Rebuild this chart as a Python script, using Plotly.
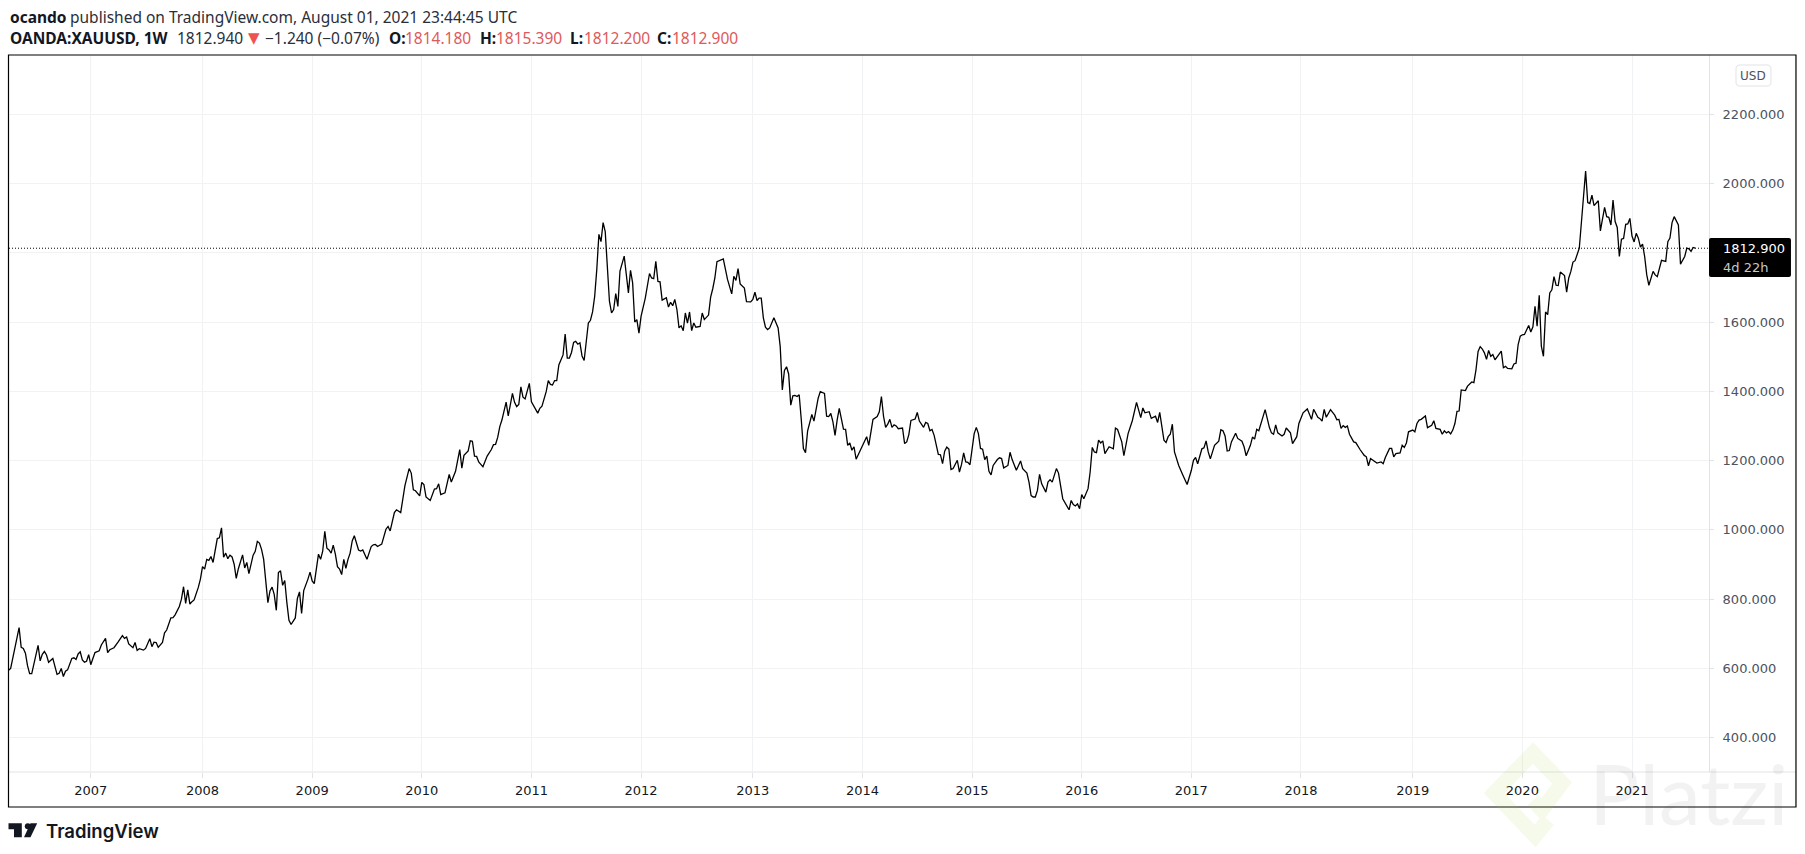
import plotly.graph_objects as go

# Weekly closes of OANDA:XAUUSD; week 0 is the first bar of 2007.
weeks_a = [-39,-38,-34,-33,-32,-31,-30,-29,-28,-25,-24,-23,-22,-21,-20,-19,-18,-16,-15,-14,-13,-12,-11,-9,-8,-7,-6,-5,-4,-3,-2,-1,
           0,1,2,4,5,7,8,9,11,13,15,16,17,18,20,21,22,23,25,26,28,29,30,31,32,34,35,36,38,39,40,42,43,44,45,46,47,48,49,51,52,
           53,54,55,56,57,58,60,61,62,63,64,65,66,67,68,69,70,72,73,74,75,76,77,78,79,80,81,82,83,84,85,86,87,88,89,90,91,92,93,94,95,96,97,98,99,100,101,103,
           104,105,106,108,109,110,111,112,113,114,115,116,117,118,119,120,121,122,123,124,125,127,128,129,131,133,134,135,136,138,140,141,142,144,145,147]
closes_a = [595,600,718,661,658,644,608,585,585,667,622,641,649,639,618,625,629,583,586,600,577,592,596,629,631,626,642,648,625,618,621,640,
            611,629,646,651,668,687,646,654,660,677,695,687,691,671,660,675,652,657,653,658,686,663,676,675,661,675,703,711,746,747,755,779,800,836,788,827,786,793,798,834,858,
            894,887,915,912,923,906,975,977,1006,921,933,917,927,922,901,860,888,928,890,906,874,906,927,938,967,962,944,915,848,790,824,835,814,768,877,882,840,854,790,739,727,738,746,802,821,759,825,858,
            878,853,845,930,915,939,996,947,942,933,956,930,894,887,871,915,889,915,933,968,983,942,939,942,915,952,957,958,952,959,1002,1010,997,1050,1058,1050]

weeks_b = [148,149,151,152,153,154,156,157,158,159,161,163,164,165,166,168,170,171,173,175,176,177,179,180,181,182,183,184,186,188,190,191,192,193,194,195,197,198,200,201,202,203,204,205,206,208,209,211,212,213,214,216,217,218,219,220,221,222,223,224,225,226,227,228,229,230,231,232,233,234,236,237,238,239,240,241,242,243,244,245,246,247,248,249,250,251,253,254,255,256,257,258,259,260,261,263,265,266,267,268,269,270,271,273,274,275,276,277,278,279,280,281,282,283,284,285,286,287,289,290,291,293,294,295,296,297,299,300,302,304,305,306,307,308,310,311,313,314,315,316,317,318,319,320,321,322,324,326,327,328,329,330,331,332,333,334,335,336]
closes_b = [1090,1128,1177,1164,1116,1113,1098,1137,1131,1095,1085,1118,1119,1133,1102,1107,1160,1138,1169,1232,1178,1215,1228,1257,1256,1213,1212,1196,1182,1213,1232,1246,1247,1267,1298,1317,1369,1329,1394,1368,1356,1362,1413,1383,1378,1423,1370,1346,1337,1351,1357,1399,1431,1420,1418,1431,1431,1476,1491,1505,1565,1496,1496,1512,1541,1544,1536,1540,1502,1489,1597,1605,1629,1674,1752,1853,1832,1887,1861,1771,1660,1626,1636,1682,1645,1747,1790,1737,1684,1749,1713,1600,1607,1568,1616,1669,1740,1727,1725,1775,1717,1716,1663,1670,1643,1657,1647,1665,1636,1583,1589,1575,1626,1597,1629,1575,1597,1585,1587,1626,1607,1620,1672,1696,1727,1774,1778,1782,1723,1681,1732,1720,1754,1710,1698,1659,1658,1665,1686,1662,1669,1669,1612,1585,1578,1583,1612,1583,1529,1404,1460,1471,1450,1360,1387,1388,1385,1390]

weeks_c = [337,338,339,340,342,343,345,346,348,349,350,351,352,353,354,355,357,358,359,360,361,362,363,365,366,368,369,371,373,374,375,376,377,378,379,380,381,382,383,385,386,387,388,389,391,392,393,394,395,396,397,398,399,400,401,402,403,404,405,406,407,408,409,411,412,413,414,415,416,417,419,420,421,422,423,424,425,426,427,428,430,431,432,433,435,436,437,439,441,442,444,445,446,447,448,449,450,451,453,454,455,456,458,459,461,462,464,465,466,467,468,469,470,471,473,474,475,476,477,478,479,480,481,483,485,486,487,489,490,492,494,496,498,499,500,502,503,505,506,507,509,510,511,512,513,514]
closes_c = [1317,1235,1223,1286,1333,1314,1380,1399,1394,1328,1327,1336,1312,1273,1317,1351,1291,1290,1244,1251,1230,1240,1204,1230,1244,1269,1244,1319,1327,1341,1385,1328,1296,1305,1319,1296,1303,1300,1292,1294,1249,1254,1275,1316,1320,1339,1314,1306,1296,1310,1307,1286,1290,1273,1244,1218,1217,1191,1227,1239,1233,1174,1177,1201,1167,1189,1222,1196,1195,1188,1278,1296,1278,1235,1233,1203,1213,1169,1159,1186,1203,1208,1206,1179,1186,1224,1203,1172,1199,1177,1164,1138,1099,1095,1095,1114,1160,1133,1109,1138,1145,1138,1177,1164,1090,1080,1058,1085,1073,1069,1075,1061,1102,1090,1119,1167,1238,1225,1223,1259,1251,1257,1220,1240,1234,1294,1290,1254,1214,1278,1315,1368,1324,1352,1338,1341,1322,1328,1310,1339,1259,1252,1269,1276,1305,1225]

weeks_d = [516,518,520,522,523,524,525,527,528,529,530,531,533,535,536,537,538,539,540,541,543,544,546,547,548,550,551,552,553,554,557,559,560,561,562,563,565,566,567,569,570,572,573,575,577,579,580,582,583,584,585,586,588,590,591,592,593,594,595,596,597,599,600,602,604,605,606,607,609,610,612,613,614,616,617,618,619,621,622,623,624,625,627,628,629,630,631,633,634,636,637,638,640,641,642,643,644,645,646,647,648,649,650,652,653,655,656,657,658,659,660]
closes_d = [1186,1158,1131,1172,1201,1209,1191,1234,1237,1257,1225,1205,1244,1256,1289,1286,1271,1228,1229,1254,1279,1264,1256,1240,1214,1244,1268,1262,1290,1286,1347,1296,1280,1276,1303,1280,1271,1276,1294,1280,1249,1269,1307,1338,1349,1319,1348,1325,1321,1314,1348,1325,1347,1331,1318,1319,1293,1301,1296,1300,1276,1254,1252,1232,1215,1211,1185,1206,1199,1193,1196,1191,1209,1235,1235,1211,1220,1222,1244,1238,1251,1283,1288,1283,1307,1317,1319,1329,1295,1302,1315,1293,1290,1276,1286,1280,1284,1277,1288,1307,1342,1343,1404,1402,1415,1427,1425,1462,1515,1529,1522]

weeks_e = [661,662,663,664,665,666,669,670,671,672,674,675,676,677,678,679,680,682,683,684,685,686,687,688,689,690,691,692,693,694,695,696,697,699,700,701,702,703,704,706,707,708,709,710,711,712,713,715,716,718,719,720,721,722,723,724,725,726,727,728,729,730,731,732,733,734,735,736,737,738,739,741,742,743,745,747,748,749,750,751,753,754,755,756,757,758,759,760,761]
closes_e = [1511,1492,1518,1501,1506,1491,1516,1468,1472,1466,1465,1479,1481,1535,1559,1563,1564,1590,1571,1586,1645,1588,1677,1530,1501,1629,1621,1684,1693,1731,1706,1705,1744,1734,1686,1727,1746,1773,1777,1813,1880,1952,2036,1945,1942,1966,1936,1950,1863,1931,1904,1902,1880,1952,1890,1873,1789,1839,1841,1882,1883,1899,1848,1831,1856,1842,1816,1825,1789,1736,1706,1746,1736,1731,1778,1775,1832,1842,1887,1904,1880,1767,1779,1789,1813,1811,1804,1815,1813]

year_weeks = [0,53,105,157,209,261,314,366,418,470,522,574,627,679,731]
year_labels = ["2007","2008","2009","2010","2011","2012","2013","2014","2015","2016","2017","2018","2019","2020","2021"]
price_ticks = [400,600,800,1000,1200,1400,1600,1800,2000,2200]
price_labels = ["400.000","600.000","800.000","1000.000","1200.000","1400.000","1600.000","","2000.000","2200.000"]
last_close = 1812.9

weeks = weeks_a + weeks_b + weeks_c + weeks_d + weeks_e
closes = closes_a + closes_b + closes_c + closes_d + closes_e
for w, c in [(weeks_a, closes_a), (weeks_b, closes_b), (weeks_c, closes_c), (weeks_d, closes_d), (weeks_e, closes_e)]:
    assert len(w) == len(c), (len(w), len(c))

W, H = 1805, 854
L, R, T, B = 8.5, 1709.0, 55.0, 772.0
def fx(p): return (p - L) / (R - L)
def fy(p): return 1 - (p - T) / (B - T)

GRID = "#f1f2f4"
AXIS = "#e0e3e7"
AXF = "DejaVu Sans"
HDR = "Noto Sans"
RED = "#e0595b"
INK = "#131722"

fig = go.Figure(go.Scatter(x=weeks, y=closes, mode="lines", line=dict(color="#000000", width=1.3),
                           hoverinfo="skip", showlegend=False))

def note(px, py, text, size=15.5, color=INK, font=HDR, bold=False, anchor="left", op=1, weight=None):
    w = weight if weight else (700 if bold else 400)
    fig.add_annotation(x=fx(px), y=fy(py), xref="paper", yref="paper", text=text, showarrow=False,
                       xanchor=anchor, yanchor="middle", align="left", opacity=op, borderpad=0,
                       font=dict(size=size, color=color, family=font, weight=w))

note(8.5, 16.5, "ocando", bold=True)
note(69, 16.5, "published on TradingView.com, August 01, 2021 23:44:45 UTC", color="#2a2e39")
note(8.5, 38, "OANDA:XAUUSD, 1W", bold=True)
note(175.5, 38, "1812.940", color="#2a2e39")
note(246.5, 38, "▼", size=15, color="#ef5350", font="DejaVu Sans")
note(264, 38, "−1.240 (−0.07%)", color="#2a2e39")
for xl, xv, lab, val in [(388, 404, "O:", "1814.180"), (478.5, 495, "H:", "1815.390"),
                         (569, 583, "L:", "1812.200"), (655.5, 671, "C:", "1812.900")]:
    note(xl, 38, lab, bold=True)
    note(xv, 38, val, color=RED)

note(1722, 249, "1812.900", size=13, color="#ffffff", font=AXF)
note(1722, 267, "4d 22h", size=13, color="#c8c8c8", font=AXF)
note(1753, 75.5, "USD", size=12, color="#4c525e", font=AXF, anchor="center")
note(44.5, 830.5, "TradingView", size=18.5, color=INK, font="Inter", weight=600)
note(1588, 792, "Platzi", size=84, color="rgba(40,40,40,0.06)", font="Lato")

shapes = []
def rect(x0, y0, x1, y1, **kw):
    shapes.append(dict(type="rect", xref="paper", yref="paper", x0=fx(x0), y0=fy(y0), x1=fx(x1), y1=fy(y1), **kw))
def hline(x0, x1, y, color):
    shapes.append(dict(type="line", xref="paper", yref="paper", x0=fx(x0), x1=fx(x1), y0=fy(y), y1=fy(y), line=dict(color=color, width=1)))
def poly(points, closed=True, **kw):
    d = "M " + " L ".join(f"{fx(a):.5f} {fy(b):.5f}" for a, b in points) + (" Z" if closed else "")
    shapes.append(dict(type="path", xref="paper", yref="paper", path=d, **kw))
def round_rect(x0, y0, x1, y1, r, **kw):
    P = lambda a, b: f"{fx(a):.5f} {fy(b):.5f}"
    d = (f"M {P(x0+r,y0)} L {P(x1-r,y0)} Q {P(x1,y0)} {P(x1,y0+r)} L {P(x1,y1-r)} Q {P(x1,y1)} {P(x1-r,y1)} "
         f"L {P(x0+r,y1)} Q {P(x0,y1)} {P(x0,y1-r)} L {P(x0,y0+r)} Q {P(x0,y0)} {P(x0+r,y0)} Z")
    shapes.append(dict(type="path", xref="paper", yref="paper", path=d, **kw))

hline(L, 1796, B, AXIS)
shapes.append(dict(type="line", xref="paper", yref="y", x0=0, x1=fx(1713), y0=last_close, y1=last_close,
                   line=dict(color="#000000", width=1, dash="1px,2px")))
round_rect(1709, 238, 1791, 277, 2, fillcolor="#000000", line=dict(width=0))
round_rect(1736, 65, 1771, 86, 4, fillcolor="#ffffff", line=dict(color=AXIS, width=1))
rect(8, 55, 1796, 807, fillcolor="rgba(0,0,0,0)", line=dict(color="#000000", width=1.2))
# TradingView mark
poly([(8, 823.3), (21.3, 823.3), (21.3, 837.3), (13.5, 837.3), (13.5, 829.3), (8, 829.3)], fillcolor=INK, line=dict(width=0))
poly([(30, 823.3), (36.7, 823.3), (30, 837.3), (23.5, 837.3)], fillcolor=INK, line=dict(width=0))
shapes.append(dict(type="circle", xref="paper", yref="paper", x0=fx(24.3), x1=fx(30.3), y0=fy(823.3), y1=fy(829.3),
                   fillcolor=INK, line=dict(width=0)))
# Platzi watermark mark
poly([(1548, 820), (1535, 836), (1494, 793), (1533, 753), (1562, 783), (1542, 810), (1533, 800)], closed=False,
     fillcolor="rgba(0,0,0,0)", line=dict(color="rgba(165,205,60,0.10)", width=15))

fig.update_layout(
    width=W, height=H, autosize=False,
    margin=dict(l=L, r=W - R, t=T, b=H - B, pad=0),
    paper_bgcolor="#ffffff", plot_bgcolor="#ffffff",
    showlegend=False, shapes=shapes,
    xaxis=dict(range=[(L - 90.3) / 2.109, (R - 90.3) / 2.109], tickmode="array", tickvals=year_weeks, ticktext=year_labels,
               showgrid=True, gridcolor=GRID, gridwidth=1, zeroline=False, showline=False,
               ticks="outside", ticklen=5, tickcolor=AXIS, tickwidth=1,
               tickfont=dict(family=AXF, size=13, color=INK), ticklabelstandoff=1),
    yaxis=dict(range=[2000 - (B - 183.4) * 200 / 69.3, 2000 + (183.4 - T) * 200 / 69.3], side="right",
               tickmode="array", tickvals=price_ticks, ticktext=price_labels,
               showgrid=True, gridcolor=GRID, gridwidth=1, zeroline=False,
               showline=True, linecolor=AXIS, linewidth=1, mirror=False,
               ticks="outside", ticklen=4, tickcolor=AXIS, tickwidth=1,
               tickfont=dict(family=AXF, size=13, color="#4c525e"), ticklabelstandoff=6),
)

fig.write_html("out.html", config=dict(displayModeBar=False),
               post_script="document.body.style.margin='0';document.documentElement.style.overflow='hidden';")
